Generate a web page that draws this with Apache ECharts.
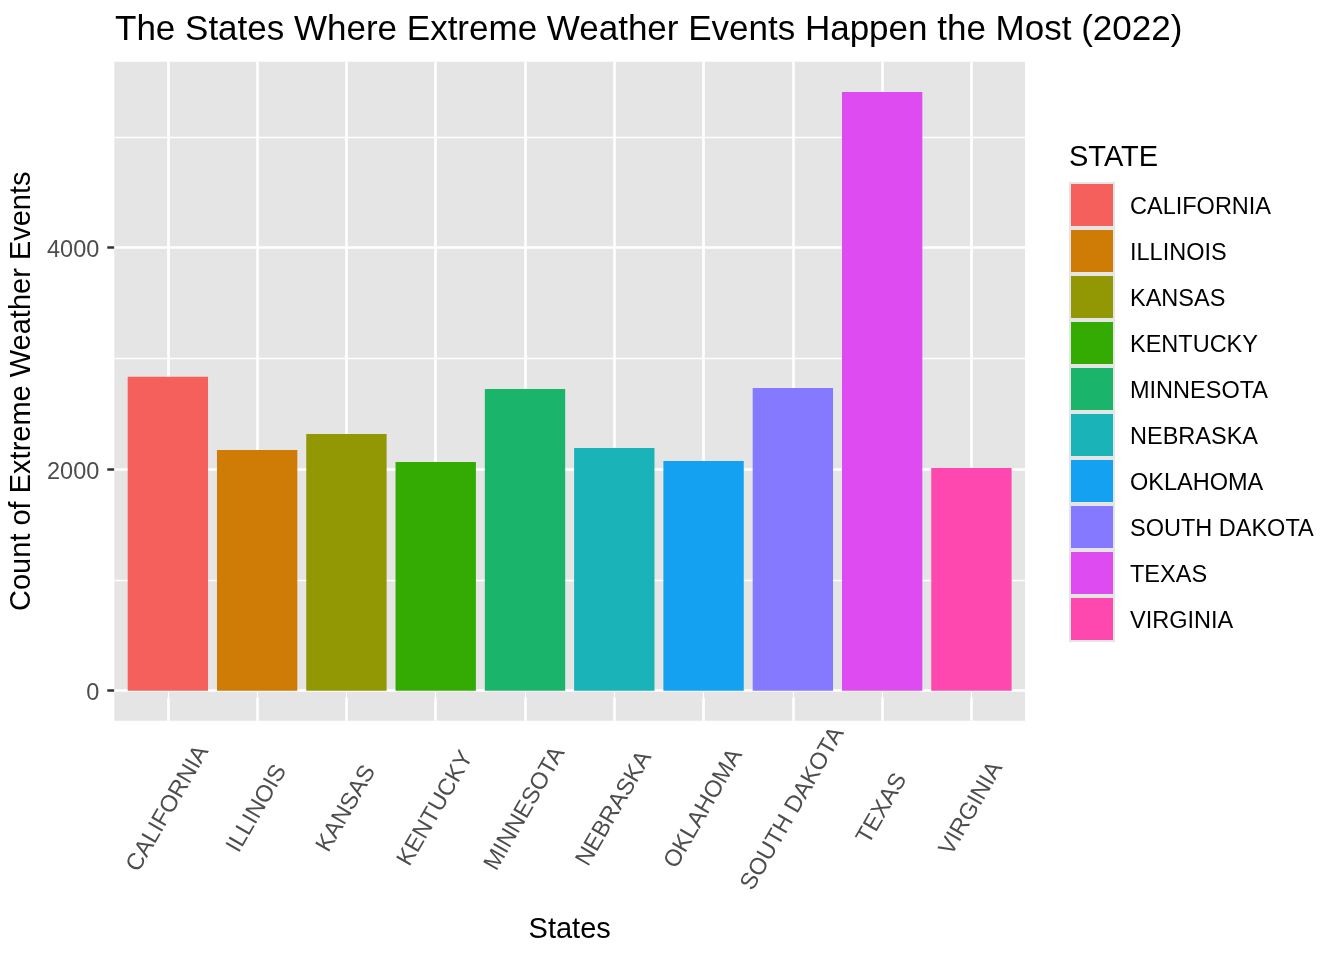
<!DOCTYPE html>
<html>
<head>
<meta charset="utf-8">
<script src="https://cdn.jsdelivr.net/npm/echarts@6/dist/echarts.min.js"></script>
<style>html,body{margin:0;padding:0;background:#fff}#c{width:1344px;height:960px}</style>
</head>
<body>
<div id="c"></div>
<script>
const categories = ['CALIFORNIA','ILLINOIS','KANSAS','KENTUCKY','MINNESOTA','NEBRASKA','OKLAHOMA','SOUTH DAKOTA','TEXAS','VIRGINIA'];
const values = [2835, 2173, 2318, 2065, 2724, 2191, 2074, 2733, 5406, 2011];
const colors = ['#F5605C','#CF7C06','#919803','#33AB03','#1AB56B','#19B3B8','#15A1F2','#8479FF','#DE4BF1','#FF48AF'];
const yMajorTicks = [0, 2000, 4000];
const yMinorTicks = [1000, 3000, 5000];
const yRange = [-271, 5679];

const FONT = 'Liberation Sans';
const panel = {left: 114.3, top: 61.7, width: 910.7, height: 659};
const expand = 0.6;
const band = panel.width / (categories.length - 1 + 2 * expand);
const innerLeft = panel.left + (expand - 0.5) * band;
const innerWidth = band * categories.length;

const chart = echarts.init(document.getElementById('c'), null, {renderer: 'canvas'});

const barSeries = categories.map((name, i) => ({
  name: name,
  type: 'bar',
  stack: 'all',
  xAxisIndex: 1,
  yAxisIndex: 1,
  barCategoryGap: '10%',
  itemStyle: {color: colors[i]},
  data: categories.map((c, j) => j === i ? values[i] : '-'),
  z: 10,
  animation: false
}));

const option = {
  backgroundColor: '#ffffff',
  animation: false,
  color: colors,
  title: [
    {
      text: 'The States Where Extreme Weather Events Happen the Most (2022)',
      left: 115, top: 13, padding: 0,
      textStyle: {fontFamily: FONT, fontSize: 35, fontWeight: 'normal', color: '#000'}
    },
    {
      text: 'STATE',
      left: 1069, top: 143, padding: 0,
      textStyle: {fontFamily: FONT, fontSize: 29, fontWeight: 'normal', color: '#000'}
    }
  ],
  legend: {
    orient: 'vertical',
    left: 1071, top: 184, padding: 0,
    itemWidth: 42, itemHeight: 42, itemGap: 4,
    icon: 'rect',
    selectedMode: false,
    formatter: '{t|{name}}',
    textStyle: {
      fontFamily: FONT, fontSize: 23.5, color: '#000',
      rich: {t: {fontFamily: FONT, fontSize: 23.5, color: '#000', padding: [6, 0, 0, 12]}}
    },
    data: categories
  },
  graphic: [{
    type: 'rect', left: 1069, top: 182, z: -1,
    shape: {width: 46, height: 46 * categories.length},
    style: {fill: '#E5E5E5'}
  }],
  grid: [
    {left: panel.left, top: panel.top, width: panel.width, height: panel.height,
     show: true, backgroundColor: '#E5E5E5', borderWidth: 0, containLabel: false, outerBoundsMode: 'none'},
    {left: innerLeft, top: panel.top, width: innerWidth, height: panel.height,
     show: false, containLabel: false, outerBoundsMode: 'none'}
  ],
  xAxis: [
    {type: 'value', gridIndex: 0, min: 0, max: 1, show: false},
    {
      type: 'category', gridIndex: 1, data: categories, boundaryGap: true,
      name: 'States', nameLocation: 'middle', nameGap: 195,
      nameTextStyle: {fontFamily: FONT, fontSize: 29, color: '#000'},
      axisLine: {show: false},
      axisTick: {show: true, alignWithLabel: true, length: 7, lineStyle: {color: '#333333', width: 2.5}},
      axisLabel: {
        interval: 0, rotate: 60, margin: 88, align: 'center', verticalAlign: 'middle',
        fontFamily: FONT, fontSize: 23.5, color: '#4D4D4D'
      },
      splitLine: {show: false}
    }
  ],
  yAxis: [
    {
      type: 'value', gridIndex: 0, min: yRange[0], max: yRange[1],
      name: 'Count of Extreme Weather Events', nameLocation: 'middle', nameRotate: 90, nameGap: 72,
      nameTextStyle: {fontFamily: FONT, fontSize: 29, color: '#000'},
      axisLine: {show: false},
      axisTick: {show: true, length: 7, customValues: yMajorTicks, lineStyle: {color: '#333333', width: 2.5}},
      axisLabel: {show: true, margin: 15, customValues: yMajorTicks, formatter: v => '{t|' + v + '}',
                  rich: {t: {fontFamily: FONT, fontSize: 23.5, color: '#4D4D4D', padding: [6, 0, 0, 0]}},
                  fontFamily: FONT, fontSize: 23.5, color: '#4D4D4D'},
      splitLine: {show: false}
    },
    {type: 'value', gridIndex: 1, min: yRange[0], max: yRange[1], show: false}
  ],
  series: [
    {
      type: 'line', xAxisIndex: 0, yAxisIndex: 0, data: [], z: 1, silent: true,
      markLine: {
        z: 1, silent: true, symbol: ['none', 'none'], label: {show: false}, animation: false,
        data: yMinorTicks.map(v => ({yAxis: v, lineStyle: {color: '#ffffff', width: 1.35, type: 'solid'}}))
          .concat(yMajorTicks.map(v => ({yAxis: v, lineStyle: {color: '#ffffff', width: 2.7, type: 'solid'}})))
      }
    },
    {
      type: 'line', xAxisIndex: 1, yAxisIndex: 1, data: [], z: 1, silent: true,
      markLine: {
        z: 1, silent: true, symbol: ['none', 'none'], label: {show: false}, animation: false,
        data: categories.map(c => ({xAxis: c, lineStyle: {color: '#ffffff', width: 2.7, type: 'solid'}}))
      }
    }
  ].concat(barSeries)
};
chart.setOption(option);
</script>
</body>
</html>
